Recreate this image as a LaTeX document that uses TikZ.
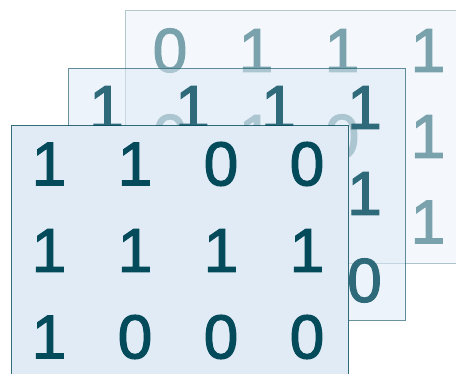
\documentclass[tikz,border=0pt]{standalone}
\usepackage{fontspec}
\setmainfont{Liberation Sans}
\newfontfamily\digitfont[FakeBold=2]{Liberation Sans}
\definecolor{dig}{HTML}{034A5A}
\definecolor{middig}{HTML}{2E6A79}
\definecolor{backdig}{HTML}{7AA2AC}
\definecolor{backfill}{HTML}{F4F8FC}
\definecolor{midfill}{HTML}{DCE8F6}
\definecolor{frontfill}{HTML}{E1EBF6}
\begin{document}
\begin{tikzpicture}[x=1pt,y=-1pt,
  digit/.style={font=\digitfont\fontsize{62}{62}\selectfont, text=dig, inner sep=0pt, anchor=center},
  layer/.style={minimum width=337pt, minimum height=253pt, anchor=north west, inner sep=0pt, line width=1pt}]
\useasboundingbox (0,0) rectangle (456,374);
\clip (0,0) rectangle (456,374);
% back layer
\node[layer, fill=backfill, draw=dig, draw opacity=0.3] (back) at (125,10.5) {};
\begin{scope}[every node/.style={digit, text=backdig}]
\node (b11) at (170,50.5) {0};
\node (b12) at (256,50.5) {1};
\node (b13) at (342,50.5) {1};
\node (b14) at (428,50.5) {1};
\node (b21) at (170,136.5) {0};
\node (b22) at (256,136.5) {1};
\node (b23) at (342,136.5) {0};
\node (b24) at (428,136.5) {1};
\node (b34) at (428,222) {1};
\end{scope}
% middle layer
\node[layer, minimum height=252pt, fill=midfill, fill opacity=0.5, draw=dig, draw opacity=0.6] (mid) at (68,68) {};
\begin{scope}[every node/.style={digit, text=middig}]
\node (m11) at (106.5,107.5) {1};
\node (m12) at (192.5,107.5) {1};
\node (m13) at (278.5,107.5) {1};
\node (m14) at (364.5,107.5) {1};
\node (m24) at (364.5,193.5) {1};
\node (m34) at (364.5,280.5) {0};
\end{scope}
% front layer
\node[layer, fill=frontfill, draw=dig, draw opacity=0.8, line width=1.2pt] (front) at (11,125) {};
\begin{scope}[every node/.style={digit}]
\node (f11) at (49,164) {1};
\node (f12) at (135,164) {1};
\node (f13) at (221,164) {0};
\node (f14) at (307,164) {0};
\node (f21) at (49,250.5) {1};
\node (f22) at (135,250.5) {1};
\node (f23) at (221,250.5) {1};
\node (f24) at (307,250.5) {1};
\node (f31) at (49,337) {1};
\node (f32) at (135,337) {0};
\node (f33) at (221,337) {0};
\node (f34) at (307,337) {0};
\end{scope}
\end{tikzpicture}
\end{document}
